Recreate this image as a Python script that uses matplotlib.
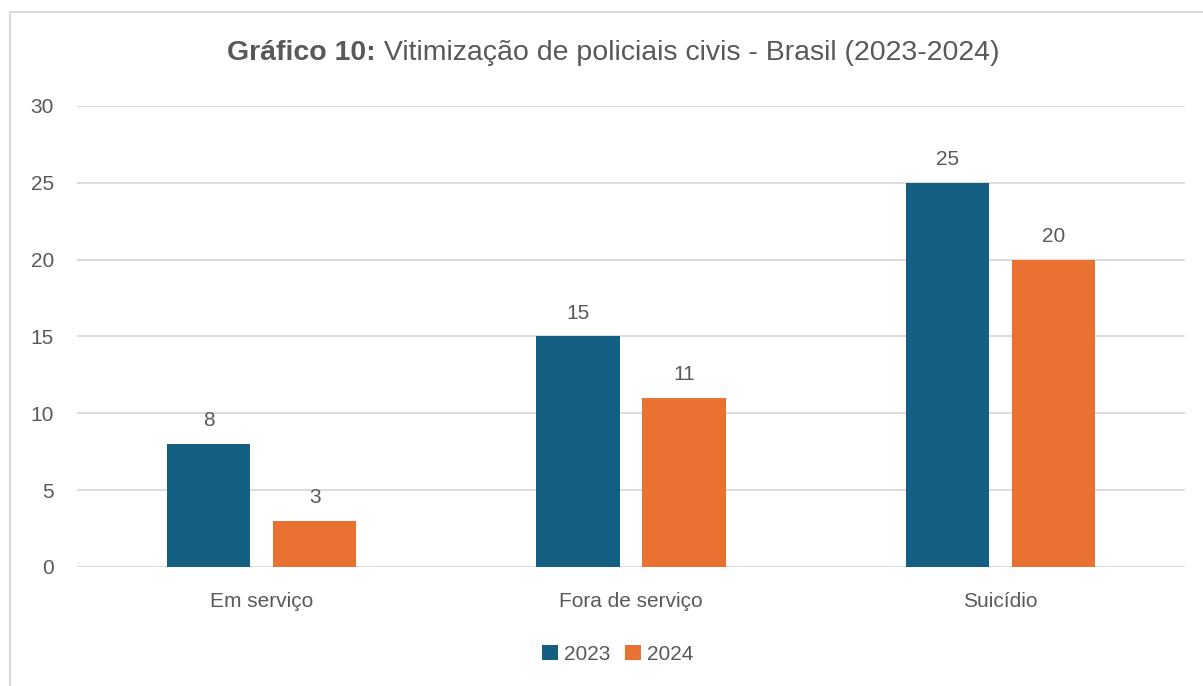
import matplotlib.pyplot as plt
import matplotlib.patches as mpatches
import numpy as np

# data
categorias = ['Em serviço', 'Fora de serviço', 'Suicídio']
v2023 = [8, 15, 25]
v2024 = [3, 11, 20]
anos = ['2023', '2024']

azul = '#156082'
laranja = '#E97132'
cinza = '#595959'

plt.rcParams['font.family'] = ['Liberation Sans', 'DejaVu Sans']

fig = plt.figure(figsize=(12.03, 6.86), dpi=100)
ax = fig.add_axes([0.064, 0.1735, 0.921, 0.672])

x = np.arange(len(categorias))
w = 0.225
gap = 0.062
b1 = ax.bar(x - (w + gap) / 2, v2023, w, color=azul, label=anos[0])
b2 = ax.bar(x + (w + gap) / 2, v2024, w, color=laranja, label=anos[1])

for bars in (b1, b2):
    for b in bars:
        ax.text(b.get_x() + b.get_width() / 2, b.get_height() + 1.5,
                '%d' % b.get_height(), ha='center', va='center',
                fontsize=15, color=cinza)

ax.set_xlim(-0.5, len(categorias) - 0.5)
ax.set_ylim(0, 30)
ax.set_yticks(range(0, 31, 5))
ax.set_xticks(x)
ax.set_xticklabels(categorias)
ax.grid(axis='y', color='#D9D9D9', linewidth=1.3)
ax.set_axisbelow(True)
for s in ax.spines.values():
    s.set_visible(False)
ax.tick_params(axis='both', length=0, labelsize=15, labelcolor=cinza)
ax.tick_params(axis='y', pad=16.5)
ax.tick_params(axis='x', pad=18)

# title: bold part + regular part, centred together
ty = 0.923
t1 = fig.text(0, ty, 'Gráfico 10:', fontsize=20.5, color=cinza,
              fontweight='bold', ha='left', va='center')
t2 = fig.text(0, ty, ' Vitimização de policiais civis - Brasil (2023-2024)',
              fontsize=20.5, color=cinza, ha='left', va='center')
fig.canvas.draw()
w1 = t1.get_window_extent().width / fig.bbox.width
w2 = t2.get_window_extent().width / fig.bbox.width
x0 = 0.51 - (w1 + w2) / 2
t1.set_x(x0)
t2.set_x(x0 + w1)

ax.legend(loc='center', bbox_to_anchor=(0.488, -0.189), ncol=2, frameon=False,
          fontsize=15, labelcolor=cinza, handlelength=0.75, handleheight=0.75,
          handletextpad=0.3, columnspacing=0.7)

# chart border
fig.patches.append(mpatches.Rectangle((0.0085, -0.05), 1.1, 1.0325,
                                      transform=fig.transFigure, fill=False,
                                      edgecolor='#D9D9D9', linewidth=1.5))

fig.savefig('out.png', dpi=100)
